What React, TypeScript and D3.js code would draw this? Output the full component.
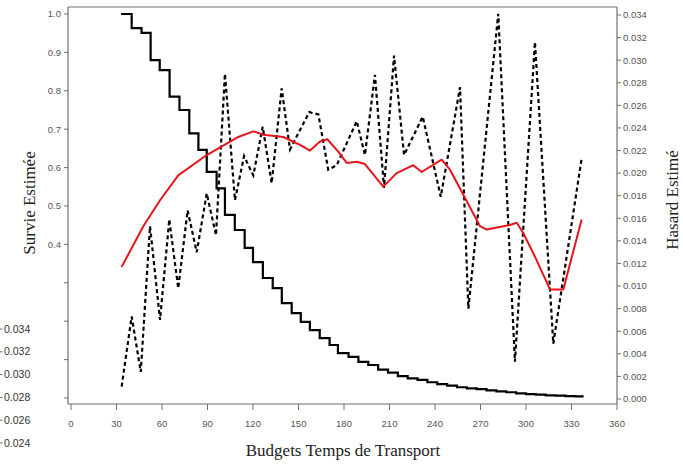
import React from "react";
import * as d3 from "d3";

const survTimes = [33, 40, 46.5, 52.5, 58.5, 65, 71.5, 78, 84, 89.5, 96, 101.5, 108, 114.5, 120, 126.5, 133, 139, 145.5, 151.5, 157.5, 164, 170.5, 176, 183, 189.5, 196, 202.5, 209, 215.5, 222, 228.5, 235, 241.5, 248, 254.5, 261, 267.5, 274, 280.5, 287, 293.5, 300, 306.5, 313, 319.5, 326, 332.5, 338];
const survValues = [1.0, 0.963, 0.951, 0.88, 0.854, 0.785, 0.75, 0.689, 0.646, 0.589, 0.546, 0.477, 0.4375, 0.391, 0.354, 0.3125, 0.286, 0.247, 0.221, 0.198, 0.177, 0.156, 0.138, 0.117, 0.107, 0.094, 0.086, 0.074, 0.066, 0.057, 0.051, 0.047, 0.041, 0.036, 0.032, 0.028, 0.025, 0.023, 0.02, 0.017, 0.015, 0.012, 0.01, 0.009, 0.007, 0.006, 0.005, 0.004, 0.004];

const hazTimes = [33.4, 40, 46, 52.1, 58.7, 64.8, 70.7, 76.9, 82.9, 89.5, 95.6, 101.5, 108.1, 114.1, 120.2, 126.4, 132.3, 138.9, 144.4, 157.1, 163.1, 169.6, 175.2, 188.4, 193.8, 200.4, 206.4, 213, 219.6, 231.9, 243.8, 256.5, 262, 281.7, 292.7, 305.9, 318, 336.7];
const hazValues = [0.0011, 0.0073, 0.0024, 0.0153, 0.007, 0.0159, 0.0098, 0.0167, 0.013, 0.0182, 0.0145, 0.0288, 0.0176, 0.0215, 0.0198, 0.0241, 0.0191, 0.0275, 0.0221, 0.0254, 0.0252, 0.0203, 0.0207, 0.0246, 0.0216, 0.0287, 0.0187, 0.0304, 0.0216, 0.025, 0.0179, 0.0276, 0.008, 0.0341, 0.0033, 0.0316, 0.0049, 0.0213];

const smoothTimes = [33.4, 47.7, 58.7, 70.7, 89.5, 110.3, 120.2, 126.8, 140, 151, 157.6, 164.2, 169, 176.2, 181.8, 188.4, 193.8, 205.9, 214.7, 225.7, 231.2, 244.4, 249.9, 259.8, 269.7, 274.1, 289.4, 293.9, 298.2, 305.9, 315.8, 324.6, 336.7];
const smoothValues = [0.0117, 0.0153, 0.0176, 0.0198, 0.0216, 0.0232, 0.0237, 0.0234, 0.0232, 0.0225, 0.022, 0.0228, 0.023, 0.0219, 0.0209, 0.021, 0.0208, 0.0188, 0.02, 0.0207, 0.0201, 0.0212, 0.0203, 0.0178, 0.0153, 0.015, 0.0154, 0.0156, 0.0147, 0.0126, 0.0097, 0.0097, 0.0159];

const xTicks = [0, 30, 60, 90, 120, 150, 180, 210, 240, 270, 300, 330, 360];
const leftTicks = [0, 0.1, 0.2, 0.3, 0.4, 0.5, 0.6, 0.7, 0.8, 0.9, 1.0];
const leftLabeled = [0.4, 0.5, 0.6, 0.7, 0.8, 0.9, 1.0];
const rightTicks = [0, 0.002, 0.004, 0.006, 0.008, 0.01, 0.012, 0.014, 0.016, 0.018, 0.02, 0.022, 0.024, 0.026, 0.028, 0.03, 0.032, 0.034];
const strayTicks = [0.034, 0.032, 0.03, 0.028, 0.026, 0.024];

export default function App() {
  const W = 683, H = 464;
  const x = d3.scaleLinear().domain([0, 360]).range([71, 617]);
  const yL = d3.scaleLinear().domain([0, 1]).range([398, 14]);
  const yR = d3.scaleLinear().domain([0, 0.034]).range([399, 15]);
  const yS = d3.scaleLinear().domain([0.034, 0.024]).range([329, 443]);

  const survLine = d3.line<number>().x((_, i) => x(survTimes[i])).y((d) => yL(d)).curve(d3.curveStepAfter);
  const hazLine = d3.line<number>().x((_, i) => x(hazTimes[i])).y((d) => yR(d));
  const smoothLine = d3.line<number>().x((_, i) => x(smoothTimes[i])).y((d) => yR(d));

  const axisColor = "#6f6f6f";
  const labelColor = "#555";
  const sans = "'Liberation Sans', Arial, sans-serif";
  const serif = "'Liberation Serif', 'Times New Roman', serif";

  return (
    <svg width={W} height={H} style={{ position: "absolute", left: 0, top: 0, background: "#fff" }}>
      <rect x={0} y={0} width={W} height={H} fill="#fff" />
      {/* frame */}
      <line x1={68} y1={7} x2={617} y2={7} stroke={axisColor} strokeWidth={1.2} />
      <line x1={68} y1={7} x2={68} y2={404} stroke={axisColor} strokeWidth={1.2} />
      <line x1={617} y1={7} x2={617} y2={404} stroke={axisColor} strokeWidth={1.2} />
      <line x1={68} y1={404} x2={617} y2={404} stroke={axisColor} strokeWidth={1.2} />

      {/* left ticks */}
      {leftTicks.map((t) => (
        <line key={"lt" + t} x1={64} x2={68} y1={yL(t)} y2={yL(t)} stroke={axisColor} strokeWidth={1} />
      ))}
      {leftLabeled.map((t) => (
        <text key={"ll" + t} x={61} y={yL(t)} dy="0.35em" textAnchor="end" fontFamily={sans} fontSize={9.5} fill={labelColor}>
          {t.toFixed(1)}
        </text>
      ))}

      {/* right ticks */}
      {rightTicks.map((t) => (
        <g key={"rt" + t}>
          <line x1={617} x2={621} y1={yR(t)} y2={yR(t)} stroke={axisColor} strokeWidth={1} />
          <text x={623} y={yR(t)} dy="0.35em" fontFamily={sans} fontSize={9.5} fill={labelColor}>
            {t.toFixed(3)}
          </text>
        </g>
      ))}

      {/* bottom ticks */}
      {xTicks.map((t) => (
        <g key={"xt" + t}>
          <line x1={x(t)} x2={x(t)} y1={404} y2={410} stroke={axisColor} strokeWidth={1} />
          <text x={x(t)} y={427} textAnchor="middle" fontFamily={sans} fontSize={9.5} fill={labelColor}>
            {t}
          </text>
        </g>
      ))}

      {/* stray labels at bottom left */}
      {strayTicks.map((t) => (
        <g key={"st" + t}>
          <line x1={0} x2={2.5} y1={yS(t)} y2={yS(t)} stroke={axisColor} strokeWidth={1} />
          <text x={4} y={yS(t)} dy="0.35em" fontFamily={sans} fontSize={10.5} fill="#333">
            {t.toFixed(3)}
          </text>
        </g>
      ))}

      {/* series */}
      <path d={hazLine(hazValues) || ""} fill="none" stroke="#000" strokeWidth={2.2} strokeDasharray="4 3" />
      <path d={survLine(survValues) || ""} fill="none" stroke="#000" strokeWidth={2.2} />
      <path d={smoothLine(smoothValues) || ""} fill="none" stroke="#e8141b" strokeWidth={2} strokeLinejoin="round" />

      {/* titles */}
      <text transform="translate(35,203) rotate(-90)" textAnchor="middle" fontFamily={serif} fontSize={17} fill="#222">
        Survie Estimée
      </text>
      <text transform="translate(678,200) rotate(-90)" textAnchor="middle" fontFamily={serif} fontSize={17} fill="#222">
        Hasard Estimé
      </text>
      <text x={343} y={456} textAnchor="middle" fontFamily={serif} fontSize={17} fill="#222">
        Budgets Temps de Transport
      </text>
    </svg>
  );
}
